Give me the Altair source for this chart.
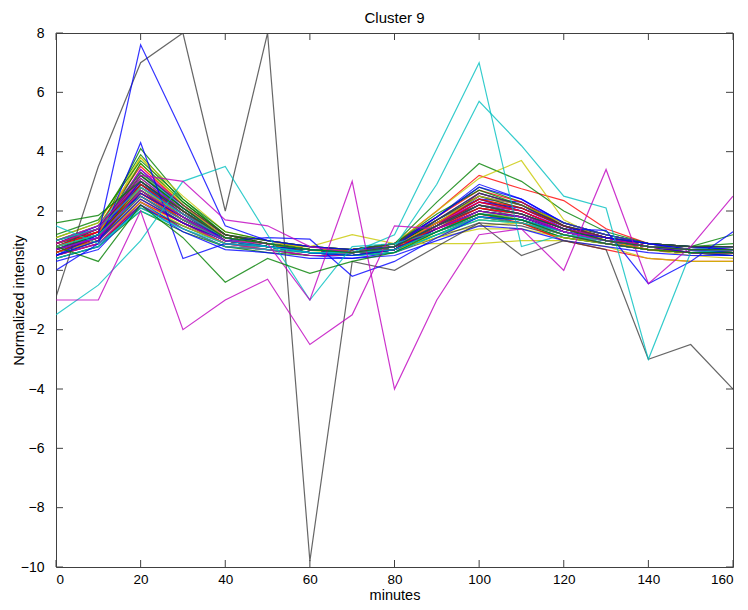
import altair as alt
import pandas as pd

FONT = "Liberation Sans, Arial, Helvetica"

minutes = [0, 10, 20, 30, 40, 50, 60, 70, 80, 90, 100, 110, 120, 130, 140, 150, 160]
x_ticks = [0, 20, 40, 60, 80, 100, 120, 140, 160]
y_ticks = [-10, -8, -6, -4, -2, 0, 2, 4, 6, 8]
chart_title = ["Cluster 9"]

# ---- bundle profiles ----
b1 = [0.6, 1.1, 2.6, 1.8, 1.0, 0.8, 0.6, 0.5, 0.7, 1.3, 2.0, 1.8, 1.3, 1.0, 0.7, 0.6, 0.6]
g1 = [0.9, 1.4, 3.1, 2.0, 1.1, 0.9, 0.7, 0.6, 0.8, 1.5, 2.3, 2.0, 1.4, 1.1, 0.8, 0.7, 0.7]
r1 = [0.7, 1.0, 2.4, 1.6, 0.9, 0.8, 0.6, 0.6, 0.8, 1.4, 1.9, 1.7, 1.2, 0.9, 0.7, 0.6, 0.5]
c1 = [0.5, 0.9, 2.2, 1.5, 0.9, 0.7, 0.5, 0.5, 0.6, 1.2, 1.7, 1.6, 1.1, 0.9, 0.7, 0.7, 0.8]
m1 = [0.8, 1.2, 2.8, 1.9, 1.2, 0.9, 0.7, 0.6, 0.7, 1.4, 2.1, 1.9, 1.3, 1.0, 0.8, 0.7, 0.6]
y1 = [1.0, 1.5, 3.6, 2.2, 1.0, 0.8, 0.6, 0.7, 0.9, 1.6, 2.4, 2.1, 1.5, 1.1, 0.8, 0.6, 0.5]
k1 = [0.7, 1.2, 2.7, 1.7, 1.0, 0.8, 0.7, 0.6, 0.7, 1.3, 1.8, 1.6, 1.2, 1.0, 0.8, 0.7, 0.7]
b2 = [0.4, 0.8, 2.3, 1.4, 0.8, 0.7, 0.5, 0.4, 0.6, 1.5, 2.5, 2.2, 1.4, 1.0, 0.7, 0.6, 0.7]
g2 = [1.1, 1.6, 3.9, 2.3, 1.2, 0.9, 0.7, 0.6, 0.9, 1.8, 2.8, 2.3, 1.5, 1.1, 0.8, 0.7, 0.6]
r2 = [0.9, 1.3, 3.0, 2.0, 1.1, 0.9, 0.7, 0.7, 0.9, 1.6, 2.2, 1.9, 1.4, 1.1, 0.9, 0.8, 0.7]
c2 = [0.6, 1.0, 2.5, 1.7, 1.0, 0.8, 0.6, 0.5, 0.7, 1.3, 1.9, 1.8, 1.3, 1.0, 0.8, 0.7, 0.6]
m2 = [0.7, 1.1, 2.9, 2.1, 1.1, 0.8, 0.6, 0.5, 0.7, 1.4, 2.0, 1.7, 1.2, 0.9, 0.7, 0.6, 0.6]
y2 = [0.8, 1.3, 3.3, 2.0, 1.0, 0.9, 0.7, 0.6, 0.8, 1.2, 1.5, 1.6, 1.3, 1.0, 0.7, 0.5, 0.4]
k2 = [0.5, 0.9, 2.1, 1.5, 0.9, 0.7, 0.6, 0.5, 0.6, 1.1, 1.6, 1.5, 1.1, 0.9, 0.7, 0.6, 0.6]
b3 = [0.6, 1.2, 3.4, 2.1, 1.1, 0.9, 0.7, 0.6, 0.8, 1.7, 2.4, 2.0, 1.4, 1.0, 0.8, 0.7, 0.8]
g3 = [0.7, 1.3, 4.1, 2.4, 1.2, 1.0, 0.8, 0.7, 0.9, 1.6, 2.2, 2.0, 1.4, 1.1, 0.9, 0.8, 1.2]
r3 = [0.5, 0.9, 2.2, 1.4, 0.8, 0.7, 0.5, 0.5, 0.7, 1.5, 2.6, 2.2, 1.5, 1.1, 0.8, 0.7, 0.6]
c3 = [0.9, 1.4, 3.0, 1.9, 1.0, 0.8, 0.6, 0.6, 0.8, 1.3, 1.8, 1.7, 1.2, 0.9, 0.7, 0.6, 0.5]
m3 = [0.6, 1.0, 2.6, 1.8, 1.0, 0.8, 0.6, 0.6, 0.8, 1.6, 2.3, 2.1, 1.5, 1.2, 0.9, 0.8, 0.8]
y3 = [1.1, 1.6, 3.8, 2.5, 1.3, 1.0, 0.7, 0.6, 0.7, 1.2, 1.7, 1.6, 1.2, 1.0, 0.8, 0.7, 0.7]
k3 = [0.8, 1.2, 2.9, 1.9, 1.1, 0.9, 0.8, 0.7, 0.8, 1.4, 2.0, 1.8, 1.3, 1.0, 0.8, 0.7, 0.6]
b4 = [0.7, 1.3, 3.2, 2.0, 1.0, 0.8, 0.6, 0.5, 0.7, 1.6, 2.4, 2.3, 1.6, 1.2, 0.9, 0.8, 0.7]
g4 = [0.4, 0.8, 2.0, 1.3, 0.8, 0.6, 0.5, 0.5, 0.6, 1.2, 1.8, 1.6, 1.1, 0.9, 0.7, 0.6, 0.5]
r4 = [1.0, 1.5, 3.5, 2.2, 1.2, 0.9, 0.7, 0.7, 0.9, 1.8, 2.7, 2.3, 1.5, 1.1, 0.8, 0.6, 0.6]
c4 = [0.8, 1.2, 2.8, 1.8, 1.0, 0.9, 0.7, 0.6, 0.8, 1.5, 2.1, 1.9, 1.4, 1.0, 0.8, 0.7, 0.7]
m4 = [0.9, 1.4, 3.1, 2.0, 1.1, 0.9, 0.7, 0.7, 0.9, 1.7, 2.5, 2.1, 1.4, 1.0, 0.8, 0.7, 0.8]
y4 = [0.6, 1.0, 2.4, 1.6, 0.9, 0.7, 0.6, 0.6, 0.7, 1.1, 1.4, 1.4, 1.1, 0.9, 0.7, 0.6, 0.6]
k4 = [0.6, 1.1, 2.5, 1.6, 0.9, 0.8, 0.6, 0.5, 0.7, 1.4, 2.2, 1.9, 1.3, 1.0, 0.8, 0.7, 0.6]
b5 = [0.8, 1.4, 2.9, 1.8, 1.0, 0.8, 0.7, 0.6, 0.7, 1.5, 2.3, 2.1, 1.5, 1.1, 0.8, 0.6, 0.5]
g5 = [0.5, 1.0, 2.6, 1.8, 1.1, 0.9, 0.7, 0.6, 0.8, 1.4, 2.0, 1.8, 1.3, 1.1, 0.9, 0.8, 0.8]
r5 = [0.7, 1.2, 2.7, 1.7, 1.0, 0.8, 0.6, 0.6, 0.8, 1.5, 2.1, 1.9, 1.4, 1.1, 0.8, 0.7, 0.6]
c5 = [1.0, 1.5, 3.3, 2.1, 1.1, 0.8, 0.6, 0.5, 0.7, 1.3, 1.9, 1.8, 1.3, 0.9, 0.7, 0.6, 0.6]
m5 = [0.5, 0.9, 2.3, 1.6, 0.9, 0.7, 0.5, 0.5, 0.7, 1.3, 1.9, 1.7, 1.2, 0.9, 0.7, 0.6, 0.7]
y5 = [0.9, 1.3, 3.0, 1.9, 1.0, 0.8, 0.7, 0.6, 0.8, 1.5, 2.2, 1.9, 1.3, 1.0, 0.8, 0.7, 0.7]
k5 = [0.9, 1.3, 3.2, 2.1, 1.2, 0.9, 0.7, 0.6, 0.8, 1.6, 2.4, 2.0, 1.4, 1.1, 0.9, 0.7, 0.7]
b6 = [0.6, 1.0, 2.8, 1.9, 1.1, 0.9, 0.7, 0.6, 0.7, 1.7, 2.6, 2.2, 1.5, 1.1, 0.8, 0.7, 0.6]
g6 = [0.8, 1.2, 3.6, 2.3, 1.2, 0.9, 0.7, 0.6, 0.8, 1.7, 2.5, 2.1, 1.5, 1.2, 0.9, 0.8, 0.8]
r6 = [0.6, 1.0, 2.3, 1.6, 1.0, 0.8, 0.7, 0.7, 0.8, 1.3, 1.8, 1.6, 1.2, 1.0, 0.8, 0.7, 0.7]
c6 = [0.7, 1.1, 2.7, 1.9, 1.1, 0.8, 0.6, 0.5, 0.6, 1.2, 1.7, 1.6, 1.2, 1.0, 0.8, 0.7, 0.8]
m6 = [0.8, 1.3, 3.4, 2.2, 1.1, 0.8, 0.6, 0.6, 0.8, 1.6, 2.3, 2.0, 1.4, 1.0, 0.7, 0.6, 0.6]
y6 = [0.7, 1.2, 2.6, 1.7, 1.0, 0.9, 0.8, 0.7, 0.8, 1.4, 2.0, 1.7, 1.3, 1.0, 0.8, 0.7, 0.6]
k6 = [0.8, 1.4, 3.0, 2.0, 1.1, 0.9, 0.7, 0.6, 0.8, 1.5, 2.1, 1.8, 1.3, 1.0, 0.8, 0.8, 0.8]
b7 = [0.9, 1.5, 2.5, 1.7, 1.1, 0.9, 0.7, 0.7, 0.9, 1.8, 2.9, 2.4, 1.6, 1.2, 0.9, 0.8, 0.7]
g7 = [0.6, 1.1, 2.9, 2.0, 1.1, 0.9, 0.6, 0.5, 0.7, 1.4, 2.0, 1.8, 1.3, 1.0, 0.8, 0.7, 0.7]
r7 = [0.8, 1.3, 2.6, 1.7, 1.0, 0.8, 0.6, 0.6, 0.7, 1.4, 2.1, 1.9, 1.3, 1.0, 0.7, 0.6, 0.6]
r8 = [0.7, 1.1, 2.5, 1.7, 1.0, 0.8, 0.7, 0.6, 0.8, 1.4, 1.9, 1.6, 1.0, 0.7, 0.4, 0.3, 0.3]
y7 = [0.6, 1.0, 2.3, 1.5, 0.9, 0.8, 0.8, 1.2, 0.9, 0.9, 0.9, 1.0, 1.0, 0.8, 0.4, 0.3, 0.3]
r9 = [0.8, 1.3, 3.0, 2.0, 1.1, 0.9, 0.7, 0.7, 0.9, 2.0, 3.2, 2.75, 2.35, 1.4, 0.9, 0.7, 0.7]
g8 = [0.9, 1.4, 3.2, 2.1, 1.1, 0.9, 0.7, 0.7, 0.9, 2.3, 3.6, 3.0, 2.0, 1.3, 0.9, 0.7, 0.7]
y8 = [0.8, 1.2, 3.8, 2.2, 1.1, 0.9, 0.7, 0.7, 0.9, 2.0, 3.1, 3.7, 1.7, 1.0, 0.7, 0.6, 0.6]
b8 = [0.3, 0.7, 2.2, 1.3, 0.7, 0.6, 0.4, 0.4, 0.5, 1.0, 1.5, 1.4, 1.0, 0.8, 0.6, 0.5, 0.5]
g9 = [1.2, 1.7, 3.7, 2.4, 1.3, 1.0, 0.8, 0.7, 0.9, 1.9, 2.7, 2.2, 1.6, 1.2, 0.9, 0.8, 0.9]
r10 = [0.9, 1.4, 2.8, 1.8, 1.0, 0.8, 0.7, 0.6, 0.8, 1.6, 2.4, 2.1, 1.5, 1.1, 0.8, 0.7, 0.7]
c7 = [0.4, 0.8, 2.1, 1.4, 0.8, 0.7, 0.6, 0.5, 0.6, 1.2, 1.8, 1.7, 1.3, 1.0, 0.8, 0.7, 0.7]
m7 = [1.0, 1.5, 3.0, 2.0, 1.1, 0.9, 0.7, 0.6, 0.8, 1.5, 2.2, 2.0, 1.4, 1.1, 0.8, 0.7, 0.7]
y9 = [0.7, 1.1, 2.8, 1.8, 1.0, 0.8, 0.7, 0.6, 0.8, 1.6, 2.5, 2.2, 1.6, 1.2, 0.9, 0.7, 0.6]
k7 = [1.0, 1.4, 3.3, 2.2, 1.2, 1.0, 0.8, 0.7, 0.9, 1.7, 2.6, 2.2, 1.5, 1.1, 0.9, 0.8, 0.8]
b9 = [0.7, 1.2, 3.0, 1.9, 1.0, 0.8, 0.6, 0.6, 0.8, 1.8, 2.8, 2.4, 1.6, 1.2, 0.9, 0.7, 0.7]
r11 = [0.6, 1.1, 2.9, 1.9, 1.1, 0.9, 0.7, 0.6, 0.7, 1.5, 2.3, 2.0, 1.4, 1.0, 0.8, 0.6, 0.6]
g10 = [0.7, 1.2, 2.7, 1.8, 1.0, 0.8, 0.7, 0.6, 0.7, 1.3, 1.9, 1.7, 1.3, 1.0, 0.8, 0.7, 0.6]

# ---- outlying profiles ----
k_spikes = [-0.9, 3.5, 7.0, 8.0, 2.0, 8.0, -9.8, 0.3, 0.0, 0.8, 1.6, 0.5, 1.0, 0.7, -3.0, -2.5, -4.0]
b_peak20 = [0.5, 1.2, 7.6, 4.6, 1.5, 1.0, 0.8, 0.7, 0.8, 1.5, 2.2, 1.9, 1.3, 1.0, 0.8, 0.7, 0.7]
b_drop30 = [0.0, 0.9, 4.3, 0.4, 0.9, 0.8, 0.6, 0.5, 0.7, 1.4, 2.0, 1.8, 1.3, 1.0, 0.8, 0.6, 0.6]
b_dip70 = [0.5, 1.0, 2.4, 1.6, 1.0, 1.1, 1.05, -0.2, 0.3, 1.1, 1.8, 1.7, 1.3, 1.1, 0.9, 0.7, 0.6]
b_dip140 = [0.7, 1.1, 2.6, 1.8, 1.0, 0.8, 0.7, 0.6, 0.8, 1.5, 2.2, 1.9, 1.4, 1.35, -0.45, 0.3, 1.3]
c_late = [-1.5, -0.5, 1.0, 3.0, 3.5, 1.2, -1.0, 0.8, 0.9, 1.3, 1.8, 1.6, 1.3, 1.0, 0.8, 0.7, 0.7]
c_peak100 = [0.8, 1.2, 2.5, 1.7, 1.0, 0.8, 0.6, 0.6, 1.2, 4.1, 7.0, 0.8, 1.2, 1.0, 0.8, 0.7, 0.7]
c_broad100 = [1.0, 1.4, 2.8, 1.9, 1.1, 0.9, 0.7, 0.6, 0.8, 2.9, 5.7, 4.2, 2.5, 2.1, -3.0, 0.6, 0.7]
c_flat = [1.5, 0.9, 2.0, 1.4, 0.9, 0.8, 0.6, 0.6, 0.7, 1.3, 1.9, 1.7, 1.3, 1.0, 0.8, 0.7, 0.7]
m_low = [-1.0, -1.0, 2.0, -2.0, -1.0, -0.3, -2.5, -1.5, 1.5, 1.4, 2.0, 1.8, 1.3, 1.0, 0.8, 0.7, 0.7]
m_zigzag = [0.7, 1.1, 2.7, 1.8, 1.0, 0.9, -1.0, 3.0, -4.0, -1.0, 1.2, 1.4, 0.0, 3.4, -0.45, 0.8, 2.5]
m_slow = [0.9, 1.4, 3.2, 3.0, 1.7, 1.5, 0.8, 0.6, 0.8, 1.5, 2.2, 1.9, 1.3, 1.0, 0.8, 0.7, 0.7]
g_high0 = [1.6, 1.85, 3.0, 2.0, 1.1, 0.9, 0.7, 0.6, 0.8, 1.5, 2.2, 1.9, 1.4, 1.0, 0.8, 0.7, 0.7]
g_dip40 = [0.8, 0.3, 2.2, 1.1, -0.4, 0.4, -0.1, 0.3, 0.6, 1.3, 1.9, 1.7, 1.2, 0.9, 0.7, 0.6, 0.6]

profiles = [
    ("b1", b1, "b"), ("g1", g1, "g"), ("r1", r1, "r"), ("c1", c1, "c"), ("m1", m1, "m"),
    ("y1", y1, "y"), ("k1", k1, "k"), ("b2", b2, "b"), ("g2", g2, "g"), ("r2", r2, "r"),
    ("c2", c2, "c"), ("m2", m2, "m"), ("y2", y2, "y"), ("k2", k2, "k"), ("b3", b3, "b"),
    ("g3", g3, "g"), ("r3", r3, "r"), ("c3", c3, "c"), ("m3", m3, "m"), ("y3", y3, "y"),
    ("k3", k3, "k"), ("b4", b4, "b"), ("g4", g4, "g"), ("r4", r4, "r"), ("c4", c4, "c"),
    ("m4", m4, "m"), ("y4", y4, "y"), ("k4", k4, "k"), ("b5", b5, "b"), ("g5", g5, "g"),
    ("r5", r5, "r"), ("c5", c5, "c"), ("m5", m5, "m"), ("y5", y5, "y"), ("k5", k5, "k"),
    ("b6", b6, "b"), ("g6", g6, "g"), ("r6", r6, "r"), ("c6", c6, "c"), ("m6", m6, "m"),
    ("y6", y6, "y"), ("k6", k6, "k"), ("b7", b7, "b"), ("g7", g7, "g"), ("r7", r7, "r"),
    ("r8", r8, "r"), ("y7", y7, "y"), ("r9", r9, "r"), ("g8", g8, "g"), ("y8", y8, "y"),
    ("b8", b8, "b"), ("g9", g9, "g"), ("r10", r10, "r"), ("c7", c7, "c"), ("m7", m7, "m"),
    ("y9", y9, "y"), ("k7", k7, "k"), ("b9", b9, "b"), ("r11", r11, "r"), ("g10", g10, "g"),
    ("k_spikes", k_spikes, "k"), ("b_peak20", b_peak20, "b"), ("b_drop30", b_drop30, "b"),
    ("b_dip70", b_dip70, "b"), ("b_dip140", b_dip140, "b"), ("c_late", c_late, "c"),
    ("c_peak100", c_peak100, "c"), ("c_broad100", c_broad100, "c"), ("c_flat", c_flat, "c"),
    ("m_low", m_low, "m"), ("m_zigzag", m_zigzag, "m"), ("m_slow", m_slow, "m"),
    ("g_high0", g_high0, "g"), ("g_dip40", g_dip40, "g"),
]

matlab = {"b": "#0000ff", "g": "#008000", "r": "#ff0000", "c": "#00bfbf",
          "m": "#bf00bf", "y": "#c8c800", "k": "#404040"}

rows = []
for name, vals, col in profiles:
    for t, v in zip(minutes, vals):
        rows.append({"sid": name, "minute": t, "value": v})
df = pd.DataFrame(rows)
sid_domain = [p[0] for p in profiles]
sid_range = [matlab[p[2]] for p in profiles]

W, H = 677, 534
TICK = 7
FRAME = "#404040"

xscale = alt.Scale(domain=[0, 160], nice=False, zero=False)
yscale = alt.Scale(domain=[-10, 8], nice=False, zero=False)

lines = alt.Chart(df).mark_line(strokeWidth=1.2, opacity=0.8, clip=True).encode(
    x=alt.X("minute:Q", scale=xscale,
            axis=alt.Axis(values=x_ticks, ticks=False, domain=False, grid=False,
                          labelFont=FONT, labelFontSize=13.5, labelColor="#000",
                          labelPadding=5, title="minutes", titleFont=FONT,
                          titleFontSize=14.5, titleFontWeight="normal", titleColor="#000",
                          titleBaseline="alphabetic", titleY=32)),
    y=alt.Y("value:Q", scale=yscale,
            axis=alt.Axis(values=y_ticks, ticks=False, domain=False, grid=False,
                          labelFont=FONT, labelFontSize=14, labelColor="#000",
                          labelPadding=12, title="Normalized intensity", titleFont=FONT,
                          titleFontSize=14.5, titleFontWeight="normal", titleColor="#000",
                          titleBaseline="alphabetic", titleX=-33, titleY=H / 2)),
    color=alt.Color("sid:N", scale=alt.Scale(domain=sid_domain, range=sid_range), legend=None),
    detail="sid:N",
)

xt = pd.DataFrame({"t": x_ticks})
yt = pd.DataFrame({"t": y_ticks})
tt = pd.DataFrame({"label": chart_title})

bottom_ticks = alt.Chart(xt).mark_rule(color=FRAME, strokeWidth=1).encode(
    x=alt.X("t:Q", scale=xscale, axis=None), y=alt.value(H), y2=alt.value(H - TICK))
top_ticks = alt.Chart(xt).mark_rule(color=FRAME, strokeWidth=1).encode(
    x=alt.X("t:Q", scale=xscale, axis=None), y=alt.value(0), y2=alt.value(TICK))
left_ticks = alt.Chart(yt).mark_rule(color=FRAME, strokeWidth=1).encode(
    y=alt.Y("t:Q", scale=yscale, axis=None), x=alt.value(0), x2=alt.value(TICK))
right_ticks = alt.Chart(yt).mark_rule(color=FRAME, strokeWidth=1).encode(
    y=alt.Y("t:Q", scale=yscale, axis=None), x=alt.value(W), x2=alt.value(W - TICK))
title_text = alt.Chart(tt).mark_text(font=FONT, fontSize=15, color="#000",
                                     baseline="alphabetic", align="center").encode(
    text="label:N", x=alt.value(W / 2), y=alt.value(-10))

chart = alt.layer(lines, bottom_ticks, top_ticks, left_ticks, right_ticks, title_text).resolve_axis(
    x="independent", y="independent"
).properties(
    width=W, height=H,
    autosize=alt.AutoSizeParams(type="none"),
    padding={"left": 48, "top": 25, "right": 7, "bottom": 35},
).configure_view(stroke=FRAME, strokeWidth=1)

chart.save("out.html", embed_options={"renderer": "svg", "actions": False})
